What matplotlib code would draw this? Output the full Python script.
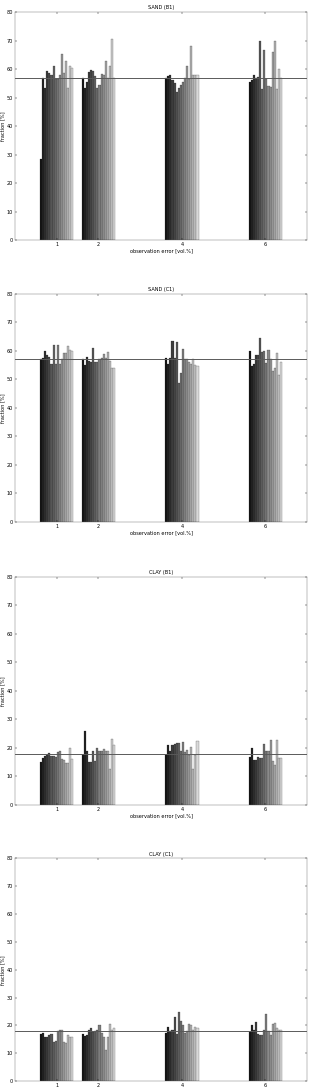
import numpy as np
import matplotlib
matplotlib.use("Agg")
import matplotlib.pyplot as plt

obs_error = [1, 2, 4, 6]
titles = ["SAND (B1)", "SAND (C1)", "CLAY (B1)", "CLAY (C1)"]
true_value = [57, 57, 17.8, 17.9]

sand_b1 = [
    [28.6, 57, 53.5, 59.3, 58.5, 57.8, 61, 56.5, 56.5, 58, 65.3, 58.5, 63, 53.5, 61, 60.5],
    [57, 53.5, 55.5, 58.8, 59.6, 59.4, 57.6, 53.2, 54.5, 58.3, 57.8, 63, 56.7, 61.2, 70.5, 57],
    [57, 57.5, 58, 56, 55, 52, 53.3, 54.5, 55.5, 57, 61, 56.6, 68, 58, 58, 58],
    [55.5, 56, 58, 57, 57.2, 69.8, 53, 66.7, 56.5, 54, 53.8, 66, 70, 53, 60, 57],
]
sand_c1 = [
    [57, 57.5, 59.8, 58.5, 57.8, 55.5, 62, 55.5, 62, 55.5, 57, 59.2, 59.2, 61.6, 60.2, 60],
    [57, 55, 57.8, 56.5, 56, 61, 56, 56, 57, 57.5, 58.8, 57.5, 59.5, 56.5, 54, 54],
    [57.5, 55.2, 57.6, 63.3, 57.6, 63, 48.7, 52.2, 60.6, 57, 57, 56, 55.2, 57, 55, 54.8],
    [60, 54.8, 55.2, 58.6, 58.6, 64.5, 59.5, 59.8, 55.8, 60.2, 57.2, 52.8, 54, 59.2, 51.6, 56],
]
clay_b1 = [
    [15, 16.5, 17, 17.5, 18, 17, 17, 16.8, 18.5, 18.8, 16, 15.8, 14.6, 14.8, 20, 16],
    [17.5, 26, 19, 15, 15, 18.8, 15.2, 20, 18.8, 19, 19.6, 18.8, 19, 12.6, 23, 21],
    [17.5, 21, 19, 20.8, 21.3, 21.6, 21.6, 18.7, 22, 18.5, 19.3, 17.5, 20.4, 12.6, 17.5, 22.4],
    [16.8, 20, 15.8, 15.8, 16.9, 16.5, 16.4, 21.3, 19, 18.7, 22.8, 15.2, 14, 22.8, 16.5, 16.5],
]
clay_c1 = [
    [17, 17.2, 15.8, 15.8, 16.7, 16.8, 14.1, 14.5, 17.9, 18.2, 18.5, 14, 13.8, 16.7, 16, 15.8],
    [17, 16.1, 16.5, 18.5, 19.2, 17.6, 17.9, 18.3, 20.2, 17.2, 16, 11.1, 16, 20.4, 18.5, 19],
    [17.3, 19.6, 18, 18.5, 23, 17, 24.9, 21.5, 20, 17.2, 18.1, 20.4, 20.2, 18.5, 19.3, 19],
    [17.5, 20.2, 18.5, 21.1, 17, 16.7, 16.7, 18.3, 24, 18, 16.5, 20.5, 20.8, 19, 18.5, 18.5],
]
panels = [sand_b1, sand_c1, clay_b1, clay_c1]

fig = plt.figure(figsize=(3.13, 10.92), dpi=100)
# axes boxes [bottom, height] in figure fraction, last one is cut at the page edge
boxes = [(0.780, 0.209), (0.522, 0.209), (0.263, 0.209), (0.010, 0.204)]
fs = 3.6

for k, data in enumerate(panels):
    ax = fig.add_axes([0.048, boxes[k][0], 0.933, boxes[k][1]])
    vals = np.array(data)
    nb = vals.shape[1]
    w = 0.8 / nb
    grays = np.linspace(0.08, 0.85, nb)
    for i in range(nb):
        xs = np.array(obs_error) - 0.4 + (i + 0.5) * w
        ax.bar(xs, vals[:, i], width=w, color=str(grays[i]),
               edgecolor="0.1", linewidth=0.15)
    ax.axhline(true_value[k], color="0.35", lw=0.7)
    ax.set_xlim(0, 7)
    ax.set_ylim(0, 80)
    ax.set_xticks(obs_error)
    ax.set_yticks(range(0, 81, 10))
    ax.tick_params(direction="in", top=True, right=True, labelsize=fs,
                   length=1.5, width=0.3, pad=1.5)
    for s in ax.spines.values():
        s.set_linewidth(0.3)
        s.set_color("0.4")
    ax.set_title(titles[k], fontsize=fs, pad=2)
    ax.set_ylabel("fraction [%]", fontsize=fs, labelpad=1)
    if k < 3:
        ax.set_xlabel("observation error [vol.%]", fontsize=fs, labelpad=1)

fig.savefig("out.png", dpi=100)
